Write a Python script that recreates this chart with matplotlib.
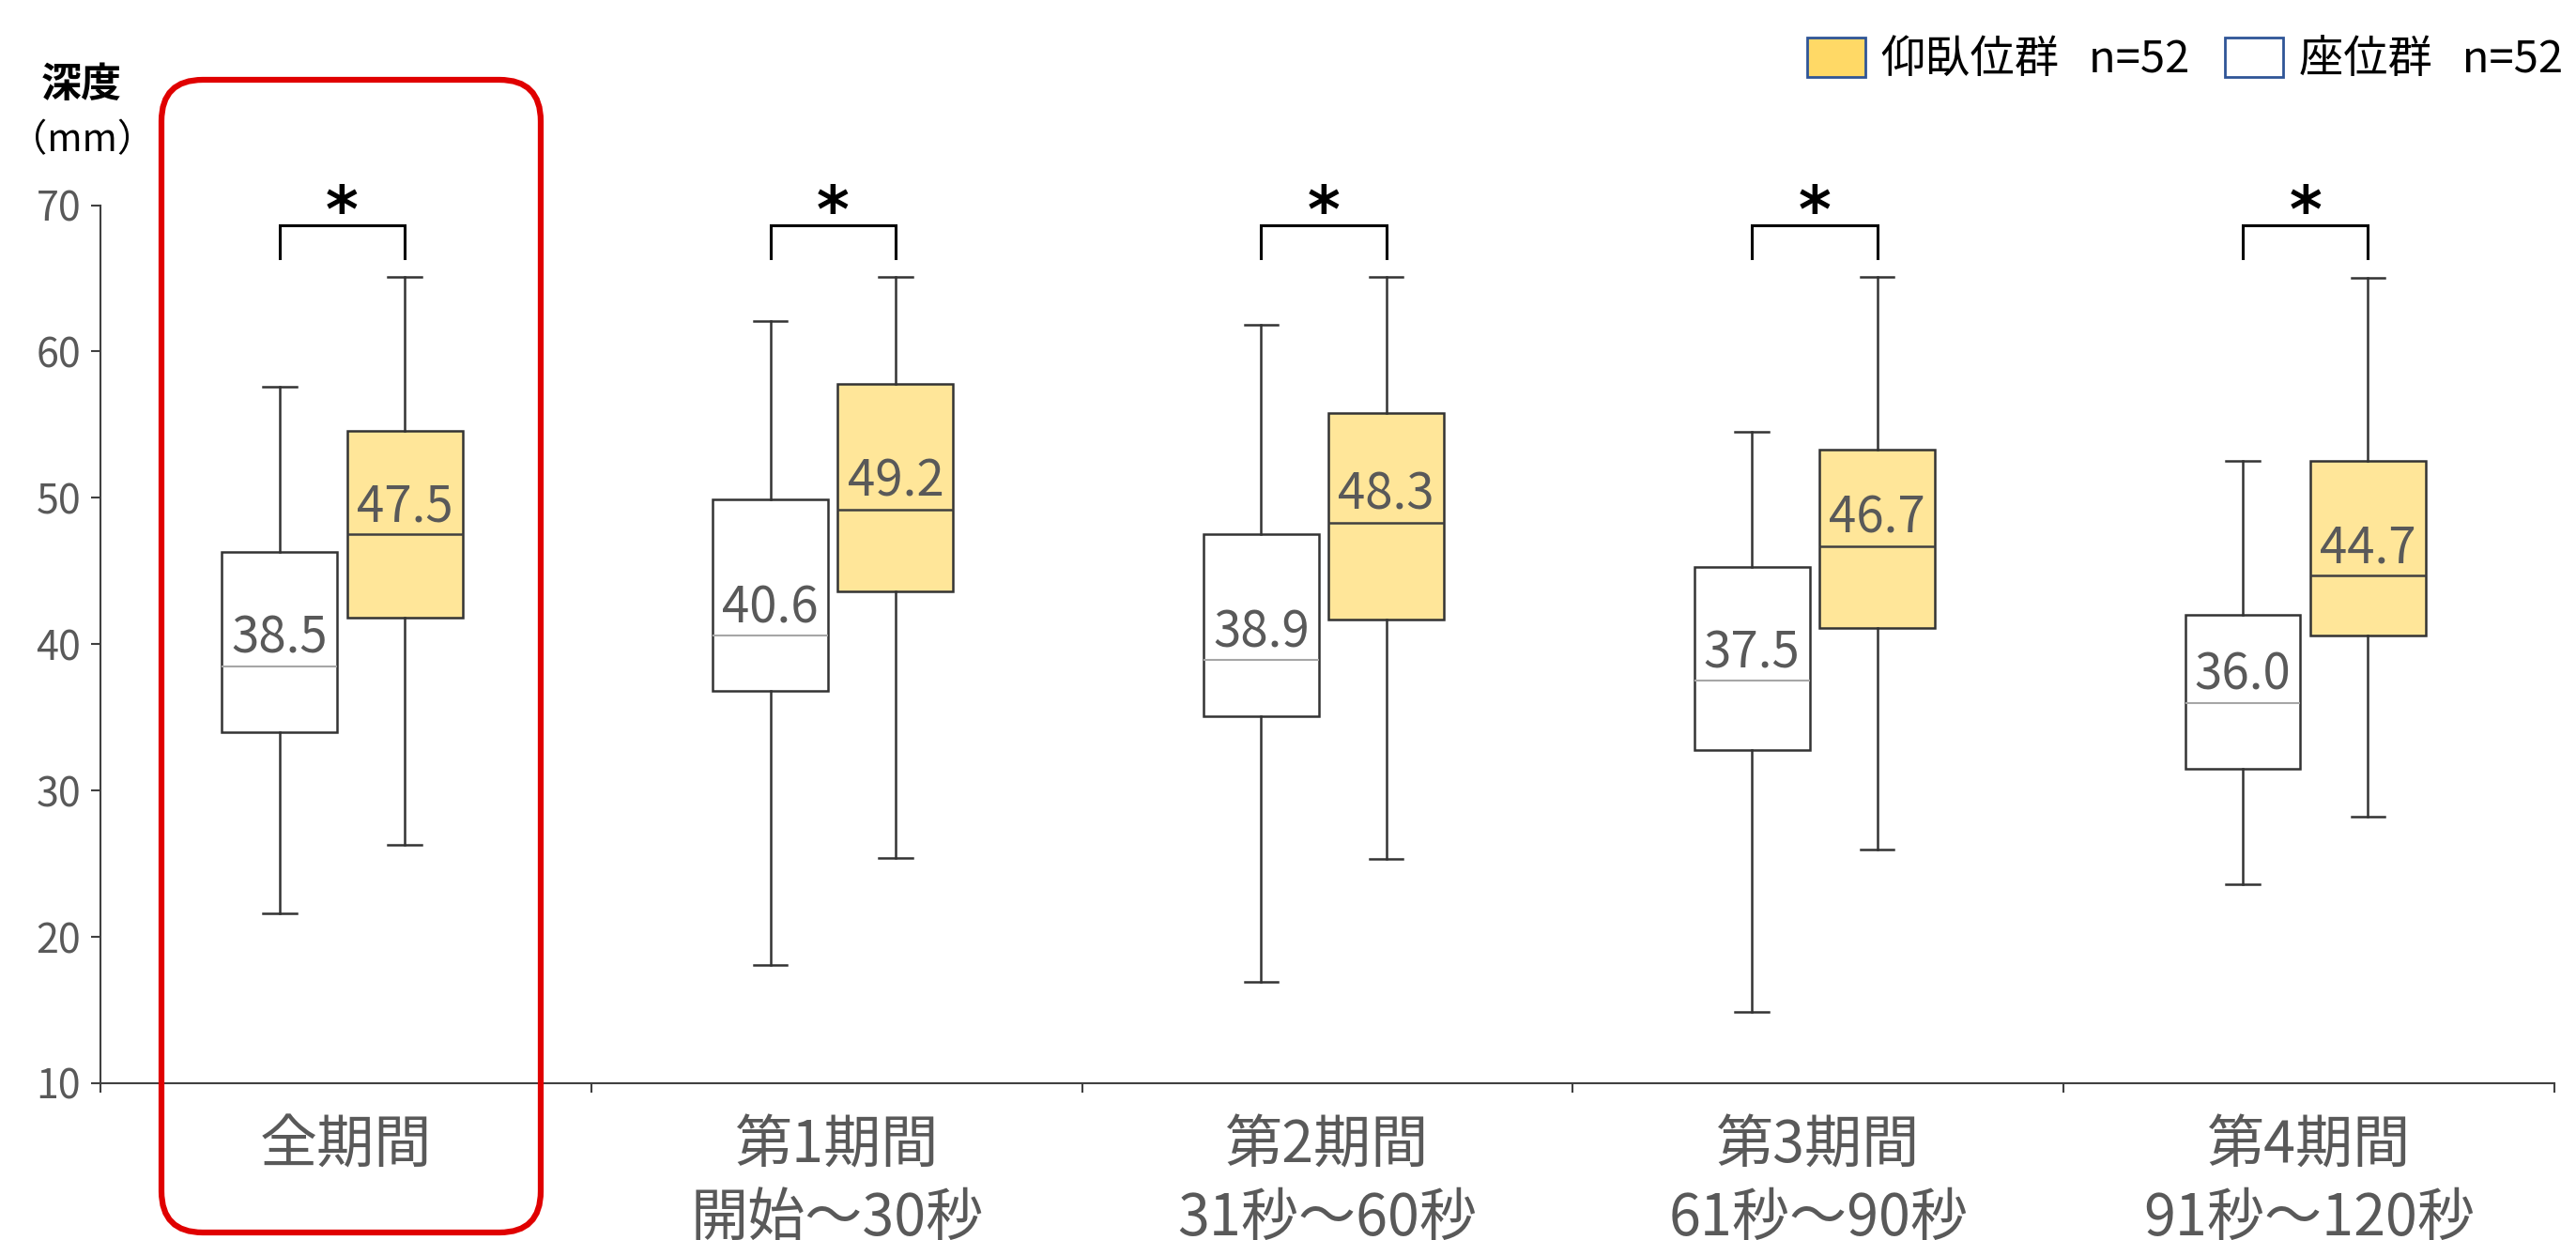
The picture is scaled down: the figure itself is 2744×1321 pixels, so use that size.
import matplotlib
matplotlib.use("Agg")
import matplotlib.pyplot as plt
from matplotlib.patches import Patch, FancyBboxPatch
from matplotlib.ticker import FixedLocator, NullFormatter

plt.rcParams['font.family'] = ['Noto Sans CJK JP', 'DejaVu Sans']

# categories (x axis)
categories = ['全期間', '第1期間\n開始～30秒', '第2期間\n31秒～60秒',
              '第3期間\n61秒～90秒', '第4期間\n91秒～120秒']

# 座位群 (white boxes)
sit_med = [38.5, 40.6, 38.9, 37.5, 36.0]
sit_q1 = [34.0, 36.8, 35.1, 32.8, 31.5]
sit_q3 = [46.3, 49.9, 47.5, 45.3, 42.0]
sit_lo = [21.6, 18.1, 16.9, 14.9, 23.6]
sit_hi = [57.6, 62.1, 61.8, 54.5, 52.5]

# 仰臥位群 (yellow boxes)
sup_med = [47.5, 49.2, 48.3, 46.7, 44.7]
sup_q1 = [41.8, 43.6, 41.7, 41.1, 40.6]
sup_q3 = [54.6, 57.8, 55.8, 53.3, 52.5]
sup_lo = [26.3, 25.4, 25.3, 26.0, 28.2]
sup_hi = [65.1, 65.1, 65.1, 65.1, 65.0]

legend_labels = ['仰臥位群   n=52', '座位群   n=52']
yticks = [10, 20, 30, 40, 50, 60, 70]

GRAY = '#595959'
EDGE = '#333333'


def make_stats(med, q1, q3, lo, hi):
    return [dict(med=m, q1=a, q3=b, whislo=l, whishi=h, fliers=[])
            for m, a, b, l, h in zip(med, q1, q3, lo, hi)]


fig = plt.figure(figsize=(27.44, 13.21), dpi=100)
ax = fig.add_axes([0.03899, 0.12642, 0.95262, 0.70817])

idx = list(range(len(categories)))
pos_sit = [i - 0.135 for i in idx]
pos_sup = [i + 0.12 for i in idx]
bw = 0.235

common = dict(widths=bw, capwidths=0.068, patch_artist=True, showfliers=False,
              whiskerprops=dict(color=EDGE, lw=1.8),
              capprops=dict(color=EDGE, lw=1.8))

ax.bxp(make_stats(sit_med, sit_q1, sit_q3, sit_lo, sit_hi), positions=pos_sit,
       boxprops=dict(facecolor='white', edgecolor=EDGE, lw=1.8),
       medianprops=dict(color='#A6A6A6', lw=1.5), **common)
ax.bxp(make_stats(sup_med, sup_q1, sup_q3, sup_lo, sup_hi), positions=pos_sup,
       boxprops=dict(facecolor='#FFE699', edgecolor=EDGE, lw=1.8),
       medianprops=dict(color='#404040', lw=1.8), **common)

# median labels
for x, m in zip(pos_sit + pos_sup, sit_med + sup_med):
    ax.annotate(f'{m:.1f}', (x, m), xytext=(0, 10), textcoords='offset points',
                ha='center', va='baseline', fontsize=38, color=GRAY)

# significance brackets
for a, b in zip(pos_sit, pos_sup):
    ax.plot([a, a, b, b], [66.4, 68.6, 68.6, 66.4], color='black', lw=2.2,
            clip_on=False, solid_joinstyle='miter')
    ax.text((a + b) / 2, 69.4, '*', ha='center', va='center', fontsize=48,
            fontweight='bold', family='DejaVu Sans', clip_on=False)

ax.set_xlim(-0.5, len(categories) - 0.5)
ax.set_ylim(10, 70)
ax.set_yticks(yticks)
ax.xaxis.set_major_locator(FixedLocator([i - 0.5 for i in range(len(categories) + 1)]))
ax.xaxis.set_major_formatter(NullFormatter())
ax.xaxis.set_minor_locator(FixedLocator(idx))
ax.set_xticklabels(categories, minor=True)
ax.tick_params(axis='x', which='minor', length=0, pad=26, labelsize=44, labelcolor=GRAY)
ax.tick_params(axis='x', which='major', length=7, width=1.5, color='#404040', direction='out')
ax.tick_params(axis='y', length=7, width=1.5, color='#404040', labelsize=31,
               labelcolor=GRAY, pad=8)
for lbl in ax.get_xticklabels(minor=True):
    lbl.set_linespacing(1.3)
for s in ['top', 'right']:
    ax.spines[s].set_visible(False)
for s in ['left', 'bottom']:
    ax.spines[s].set_color('#404040')
    ax.spines[s].set_linewidth(1.5)

# y axis title
fig.text(87 / 2744, 1 - 90 / 1321, '深度', ha='center', va='center', fontsize=31,
         fontweight='bold')
fig.text(88 / 2744, 1 - 150 / 1321, '（mm）', ha='center', va='center', fontsize=29)

# legend
handles = [Patch(facecolor='#FFD966', edgecolor='#2F5597', lw=2),
           Patch(facecolor='white', edgecolor='#2F5597', lw=2)]
fig.legend(handles, legend_labels, ncol=2, loc='upper right',
           bbox_to_anchor=(1.007, 0.995), frameon=False, fontsize=34,
           handlelength=1.3, handleheight=1.0, handletextpad=0.37,
           columnspacing=0.8, borderaxespad=0.3)

# red highlight round box around the first group
fig.add_artist(FancyBboxPatch((1.72, 0.08), 4.04, 12.28,
                              boxstyle='round,pad=0,rounding_size=0.44',
                              transform=fig.dpi_scale_trans, fill=False,
                              edgecolor='#E00000', lw=4.5))

fig.savefig('out.png', dpi=100)
